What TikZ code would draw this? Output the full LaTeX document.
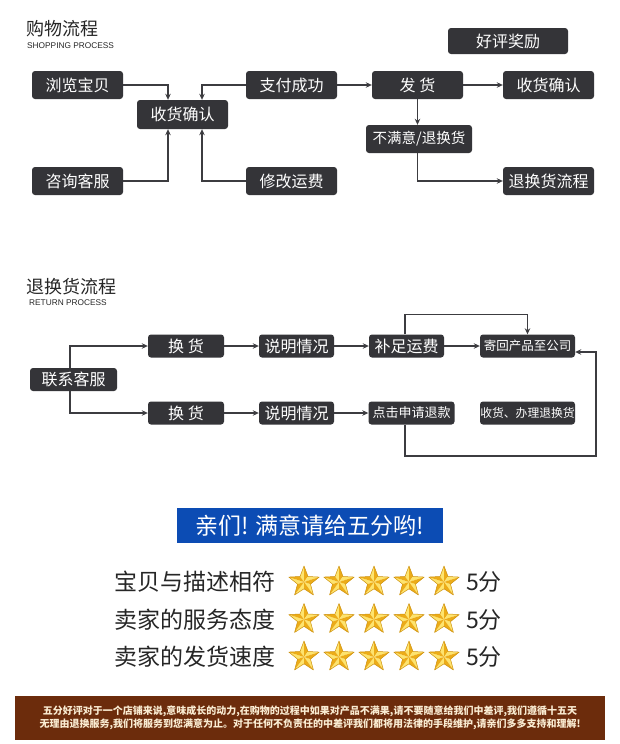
\documentclass[tikz,border=0pt]{standalone}
\usepackage{fontspec}
\setmainfont{Noto Sans CJK SC}
\newfontfamily\latinfont{Liberation Sans}
\usetikzlibrary{arrows.meta}

\definecolor{boxgray}{RGB}{52,52,56}
\definecolor{linegray}{RGB}{60,60,64}
\definecolor{titlegray}{RGB}{38,38,38}
\definecolor{bannerblue}{RGB}{12,76,180}
\definecolor{footbrown}{RGB}{108,44,12}
\definecolor{footcream}{RGB}{250,236,210}
\definecolor{starlight}{RGB}{254,228,110}
\definecolor{stardark}{RGB}{236,172,24}
\definecolor{staredge}{RGB}{205,145,15}

\tikzset{
  box/.style={fill=boxgray, text=white, rounded corners=3pt, inner sep=0pt,
    minimum height=28, font=\fontsize{16}{16}\selectfont},
  smallbox/.style={box, minimum height=23},
  flow/.style={draw=linegray, line width=1.3pt, -{Stealth[length=6pt,width=5.5pt]}},
  heading/.style={anchor=west, inner sep=0pt, text=titlegray, font=\fontsize{18}{18}\selectfont},
  subheading/.style={anchor=west, inner sep=0pt, text=titlegray, font=\latinfont\fontsize{8.3}{8.3}\selectfont},
  rowtext/.style={anchor=west, inner sep=0pt, text=titlegray, font=\fontsize{23}{23}\selectfont},
}

\begin{document}
\begin{tikzpicture}[x=1pt,y=-1pt]
    \fill[white] (0,0) rectangle (620,744);
    \useasboundingbox (0,0) rectangle (620,744);

    % shopping process
    \node[heading] (buytitle) at (26,29) {购物流程};
    \node[subheading] (buysub) at (27,45.5) {SHOPPING PROCESS};

    \node[box, minimum width=120, minimum height=26] (haoping) at (508,41) {好评奖励};
    \node[box, minimum width=91] (liulan) at (77.5,85) {浏览宝贝};
    \node[box, minimum width=91, minimum height=29] (shouhuo) at (182.5,114.5) {收货确认};
    \node[box, minimum width=91] (zhifu) at (291.5,85) {支付成功};
    \node[box, minimum width=91] (fahuo) at (417.5,85) {发 货};
    \node[box, minimum width=91] (queren) at (548.5,85) {收货确认};
    \node[box, minimum width=106, font=\fontsize{14.5}{14.5}\selectfont] (bumanyi) at (419,139) {不满意/退换货};
    \node[box, minimum width=91] (zixun) at (77.5,181) {咨询客服};
    \node[box, minimum width=91] (xiugai) at (291.5,181) {修改运费};
    \node[box, minimum width=91] (tuihuan) at (548.5,181) {退换货流程};

    \draw[flow] (liulan.east) -| ([xshift=-14.5pt]shouhuo.north);
    \draw[flow] (zhifu.west) -| ([xshift=19.5pt]shouhuo.north);
    \draw[flow] (zixun.east) -| ([xshift=-14.5pt]shouhuo.south);
    \draw[flow] (xiugai.west) -| ([xshift=19.5pt]shouhuo.south);
    \draw[flow] (zhifu) -- (fahuo);
    \draw[flow] (fahuo) -- (queren);
    \draw[flow] (fahuo.south) -- (fahuo.south |- bumanyi.north);
    \draw[flow] (fahuo.south |- bumanyi.south) |- (tuihuan.west);

    % return process
    \node[heading] (backtitle) at (26,287) {退换货流程};
    \node[subheading] (backsub) at (29,303) {RETURN PROCESS};

    \node[smallbox, minimum width=87] (lianxi) at (73.5,379.5) {联系客服};
    \node[smallbox, minimum width=76] (huanA) at (186,346) {换 货};
    \node[smallbox, minimum width=76] (huanB) at (186,413) {换 货};
    \node[smallbox, minimum width=75] (shuomingA) at (296.5,346) {说明情况};
    \node[smallbox, minimum width=75] (shuomingB) at (296.5,413) {说明情况};
    \node[smallbox, minimum width=75] (buzu) at (406.5,346) {补足运费};
    \node[smallbox, minimum width=95, font=\fontsize{12.5}{12.5}\selectfont] (jihui) at (527.5,346) {寄回产品至公司};
    \node[smallbox, minimum width=86, font=\fontsize{13}{13}\selectfont] (dianji) at (411.5,413) {点击申请退款};
    \node[smallbox, minimum width=95, font=\fontsize{11.8}{11.8}\selectfont] (banli) at (527.5,413) {收货、办理退换货};
    \coordinate (backcorner) at (596,456);

    \draw[flow] ([xshift=-3.5pt]lianxi.north) |- (huanA.west);
    \draw[flow] ([xshift=-3.5pt]lianxi.south) |- (huanB.west);
    \draw[flow] (huanA) -- (shuomingA);
    \draw[flow] (huanB) -- (shuomingB);
    \draw[flow] (shuomingA) -- (buzu);
    \draw[flow] (shuomingB) -- (dianji);
    \draw[flow] (buzu) -- (jihui);
    \draw[flow] ([xshift=-1.5pt]buzu.north) -- ++(0,-20) -| (jihui.north);
    \draw[flow] ([xshift=-6.5pt]dianji.south) |- (backcorner) |- ([yshift=-6pt]jihui.east);

    % rating
    \node[fill=bannerblue, text=white, minimum width=266, minimum height=35, inner sep=0pt,
      font=\fontsize{23}{23}\selectfont] (banner) at (310,525.5) {亲们! 满意请给五分哟!};

    \foreach \label [count=\i, evaluate=\i as \y using 582+(\i-1)*37.5] in {宝贝与描述相符, 卖家的服务态度, 卖家的发货速度} {
        \node[rowtext] (row\i) at (114,\y) {\label};
        \node[rowtext] (score\i) at (466,\y) {5分};
        \foreach \s in {0,...,4} {
            \begin{scope}[shift={(304+35*\s,\y)}]
                \foreach \a in {90,162,234,306,18} {
                    \fill[starlight] (0,0) -- (\a:16pt) -- (\a+36:6.8pt) -- cycle;
                    \fill[stardark] (0,0) -- (\a:16pt) -- (\a-36:6.8pt) -- cycle;
                }
                \draw[staredge, line width=0.5pt, line join=round] (90:16pt) -- (126:6.8pt) -- (162:16pt) -- (198:6.8pt)
                  -- (234:16pt) -- (270:6.8pt) -- (306:16pt) -- (342:6.8pt) -- (18:16pt) -- (54:6.8pt) -- cycle;
            \end{scope}
        }
    }

    % footer
    \node[fill=footbrown, minimum width=590, minimum height=44, inner sep=0pt] (footer) at (310,718) {};
    \node[text=footcream, align=center, inner sep=0pt, font=\fontsize{10}{13}\selectfont\bfseries] (foottext) at (footer.center)
      {五分好评对于一个店铺来说,意味成长的动力,在购物的过程中如果对产品不满果,请不要随意给我们中差评,我们遵循十五天\\
       无理由退换服务,我们将服务到您满意为止。对于任何不负责任的中差评我们都将用法律的手段维护,请亲们多多支持和理解!};
\end{tikzpicture}
\end{document}
